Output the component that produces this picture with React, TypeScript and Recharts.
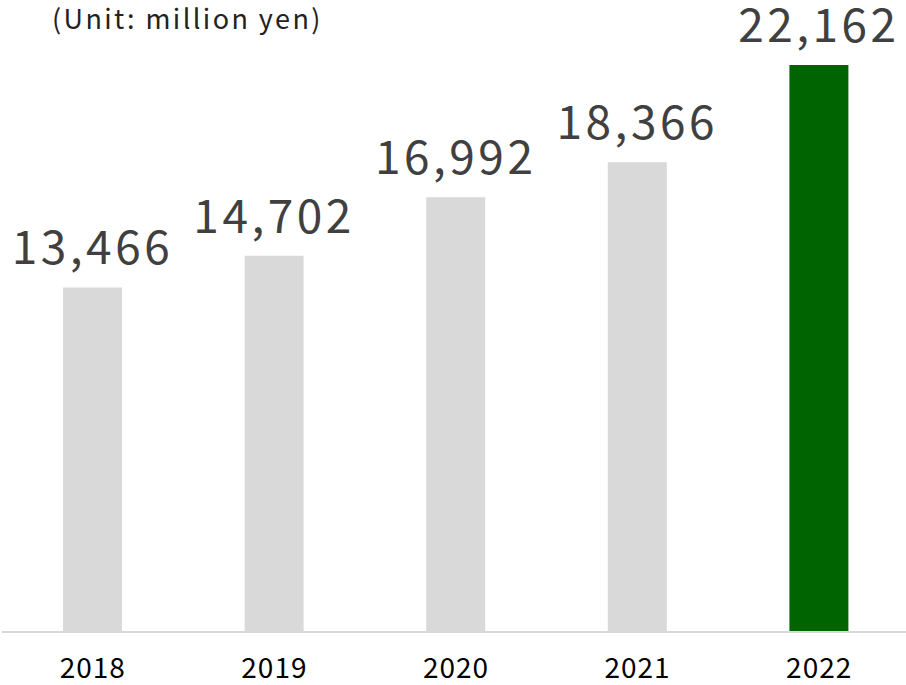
import { BarChart, Bar, XAxis, YAxis, LabelList, Cell } from 'recharts'

const years = ['2018', '2019', '2020', '2021', '2022']
const sales = [13466, 14702, 16992, 18366, 22162]
const highlightYear = '2022'

const data = years.map((year, i) => ({ year, value: sales[i] }))

const FONT = '"Noto Sans CJK JP", "Noto Sans", sans-serif'

export default function App() {
  return (
    <div style={{ position: 'relative', width: 906, height: 685, overflow: 'hidden', fontFamily: FONT }}>
      <style>{'body{margin:0}'}</style>
      <div
        style={{
          position: 'absolute',
          left: 52,
          top: 1,
          fontSize: 27,
          lineHeight: '34px',
          letterSpacing: 2.4,
          color: '#222',
          whiteSpace: 'nowrap',
        }}
      >
        (Unit: million yen)
      </div>
      <BarChart
        width={912}
        height={685}
        data={data}
        margin={{ top: 18, right: 2, left: 2, bottom: 0 }}
        barCategoryGap={0}
      >
        <YAxis hide domain={[0, 24000]} />
        <XAxis
          dataKey="year"
          height={53}
          tickLine={false}
          axisLine={{ stroke: '#d9d9d9', strokeWidth: 2 }}
          tick={{ fill: '#000', fontSize: 28, fontFamily: FONT, letterSpacing: 1 }}
          tickMargin={20}
          interval={0}
        />
        <Bar dataKey="value" barSize={59} isAnimationActive={false}>
          {data.map((d) => (
            <Cell key={d.year} fill={d.year === highlightYear ? '#006400' : '#d9d9d9'} />
          ))}
          <LabelList
            dataKey="value"
            position="top"
            offset={23}
            formatter={(v: number) => v.toLocaleString('en-US')}
            style={{ fill: '#404040', fontSize: 46, fontFamily: FONT, letterSpacing: 3.5 }}
          />
        </Bar>
      </BarChart>
    </div>
  )
}
